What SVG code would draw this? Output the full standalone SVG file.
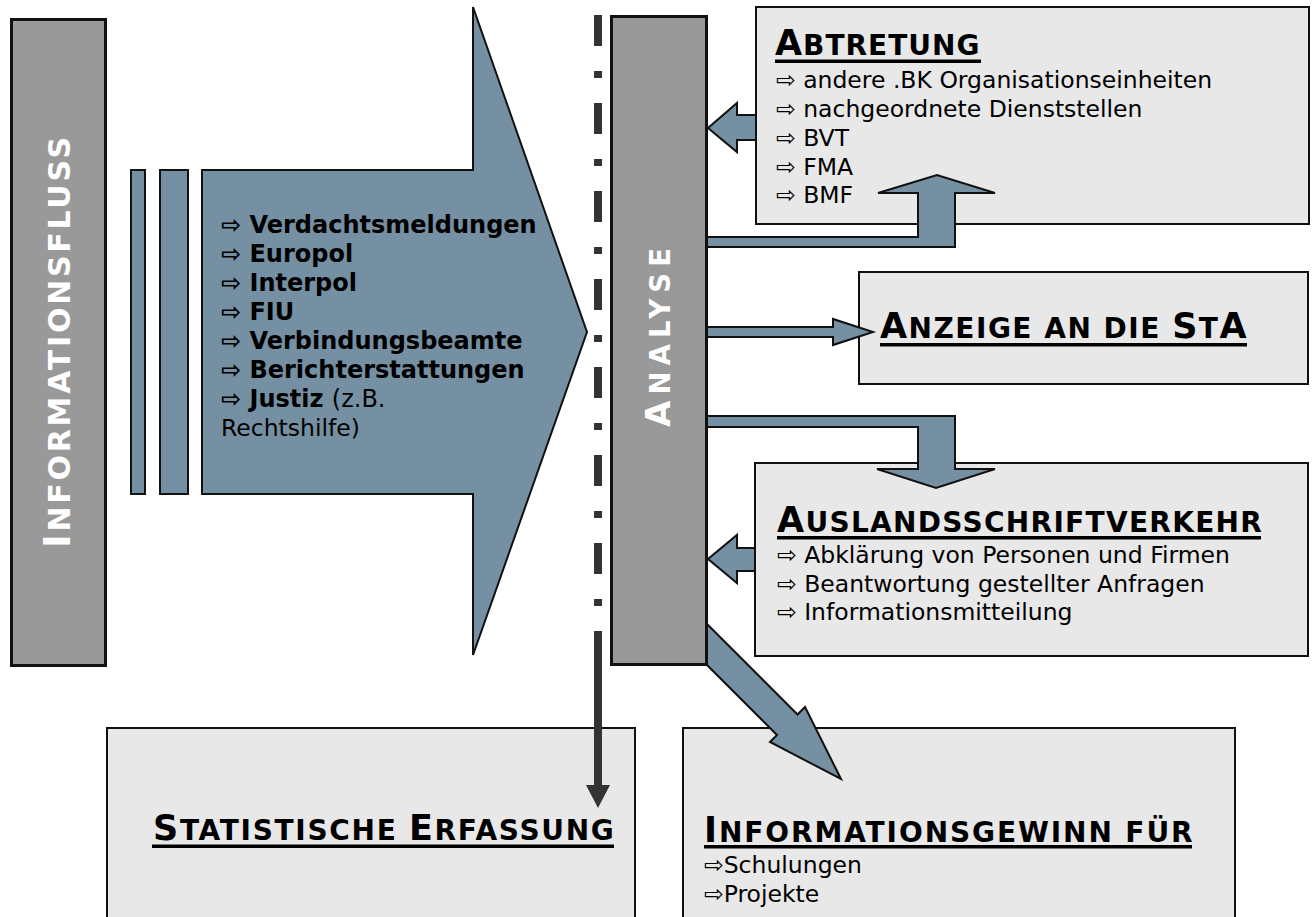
<svg xmlns="http://www.w3.org/2000/svg" width="1316" height="917" viewBox="0 0 1316 917">
  <style>
    .bar { fill: #999999; stroke: #111111; stroke-width: 3; }
    .box { fill: #e8e8e8; stroke: #111111; stroke-width: 2; }
    .blue { fill: #7590a3; stroke: #111111; stroke-width: 2; stroke-linejoin: miter; }
    .vt { font-family: "DejaVu Sans", Verdana, sans-serif; font-weight: bold; fill: #ffffff; }
    .title { font-family: "DejaVu Sans", Verdana, sans-serif; font-weight: bold; font-size: 35px; fill: #000000; }
    .sc { font-size: 28px; }
    .ul { fill: #000000; }
    .item { font-family: "DejaVu Sans", Verdana, sans-serif; font-size: 23.5px; fill: #000000; }
    .bold { font-family: "DejaVu Sans", Verdana, sans-serif; font-size: 24px; font-weight: bold; fill: #000000; }
    .reg { font-weight: normal; }
    .dash { fill: none; stroke: #333333; stroke-width: 8; }
  </style>
  <defs>
    <marker id="ah" viewBox="0 0 24 24" markerUnits="userSpaceOnUse" markerWidth="24" markerHeight="24" refX="0" refY="12" orient="auto">
      <path d="M0,0 L23,12 L0,24 Z" fill="#333333"/>
    </marker>
  </defs>

  <g id="informationsfluss">
    <rect class="bar" x="11.5" y="19.5" width="94" height="646"/>
    <text class="vt" font-size="37" transform="translate(70,548) rotate(-90)" textLength="411" lengthAdjust="spacing">I<tspan font-size="30">NFORMATIONSFLUSS</tspan></text>
  </g>

  <g id="eingang">
    <rect class="blue" x="131" y="170" width="14" height="324" stroke-width="1.5"/>
    <rect class="blue" x="160" y="170" width="28" height="324" stroke-width="1.5"/>
    <polygon class="blue" points="202,170 473,170 473,7 587,332 473,655 473,494 202,494"/>
    <text class="bold" x="221" y="233">⇨ Verdachtsmeldungen</text>
    <text class="bold" x="221" y="262">⇨ Europol</text>
    <text class="bold" x="221" y="291">⇨ Interpol</text>
    <text class="bold" x="221" y="320">⇨ FIU</text>
    <text class="bold" x="221" y="349">⇨ Verbindungsbeamte</text>
    <text class="bold" x="221" y="378">⇨ Berichterstattungen</text>
    <text class="bold" x="221" y="407">⇨ Justiz <tspan class="reg">(z.B.</tspan></text>
    <text class="item" x="221" y="436">Rechtshilfe)</text>
  </g>

  <g id="abtretung">
    <rect class="box" x="756" y="7" width="553" height="217"/>
    <text class="title" x="775" y="55" letter-spacing="1">A<tspan class="sc">BTRETUNG</tspan></text>
    <rect class="ul" x="775" y="59.5" width="206" height="3.5"/>
    <text class="item" x="776" y="88">⇨ andere .BK Organisationseinheiten</text>
    <text class="item" x="776" y="117">⇨ nachgeordnete Dienststellen</text>
    <text class="item" x="776" y="146">⇨ BVT</text>
    <text class="item" x="776" y="175">⇨ FMA</text>
    <text class="item" x="776" y="203">⇨ BMF</text>
  </g>

  <g id="anzeige">
    <rect class="box" x="859" y="272" width="449" height="112"/>
    <text class="title" x="880" y="338" letter-spacing="1.5">A<tspan class="sc">NZEIGE AN DIE </tspan>S<tspan class="sc">T</tspan>A</text>
    <rect class="ul" x="880" y="343" width="367" height="3.5"/>
  </g>

  <g id="auslandsschriftverkehr">
    <rect class="box" x="755" y="463" width="553" height="193"/>
    <text class="title" x="777" y="532" letter-spacing="1.3">A<tspan class="sc">USLANDSSCHRIFTVERKEHR</tspan></text>
    <rect class="ul" x="777" y="536" width="484" height="3.5"/>
    <text class="item" x="777" y="563">⇨ Abklärung von Personen und Firmen</text>
    <text class="item" x="777" y="592">⇨ Beantwortung gestellter Anfragen</text>
    <text class="item" x="777" y="620">⇨ Informationsmitteilung</text>
  </g>

  <g id="statistische-erfassung">
    <rect class="box" x="107" y="728" width="528" height="210"/>
    <text class="title" x="153" y="840" letter-spacing="1.7">S<tspan class="sc">TATISTISCHE </tspan>E<tspan class="sc">RFASSUNG</tspan></text>
    <rect class="ul" x="152" y="844.5" width="462" height="3.5"/>
  </g>

  <g id="informationsgewinn">
    <rect class="box" x="683" y="728" width="552" height="210"/>
    <text class="title" x="704" y="842" letter-spacing="1.9">I<tspan class="sc">NFORMATIONSGEWINN FÜR</tspan></text>
    <rect class="ul" x="704" y="845" width="488" height="3.5"/>
    <text class="item" x="704" y="873">⇨Schulungen</text>
    <text class="item" x="704" y="902">⇨Projekte</text>
  </g>

  <g id="connectors">
    <path class="dash" d="M598,15 V631" stroke-dasharray="31 25 7 25"/>
    <path class="dash" d="M598,631 V785" marker-end="url(#ah)"/>
    <polygon class="blue" points="707,237 918,237 918,193 878,193 937,175 995,193 955,193 955,247 707,247"/>
    <polygon class="blue" points="756,115 737,115 737,103 708,128 737,152 737,140 756,140"/>
    <polygon class="blue" points="707,327 833,327 833,319 873,332 833,345 833,337 707,337"/>
    <polygon class="blue" points="707,416 955,416 955,469 995,469 936,488 877,469 918,469 918,427 707,427"/>
    <polygon class="blue" points="755,548 737,548 737,535 708,559 737,583 737,571 755,571"/>
    <polygon class="blue" points="707,624 797.5,714.5 805,707 841,779 770,742 777,735 707,665"/>
  </g>

  <g id="analyse">
    <rect class="bar" x="611.5" y="16.5" width="95" height="648"/>
    <text class="vt" font-size="34" transform="translate(670,427) rotate(-90)" textLength="179" lengthAdjust="spacing">A<tspan font-size="27.5">NALYSE</tspan></text>
  </g>
</svg>
